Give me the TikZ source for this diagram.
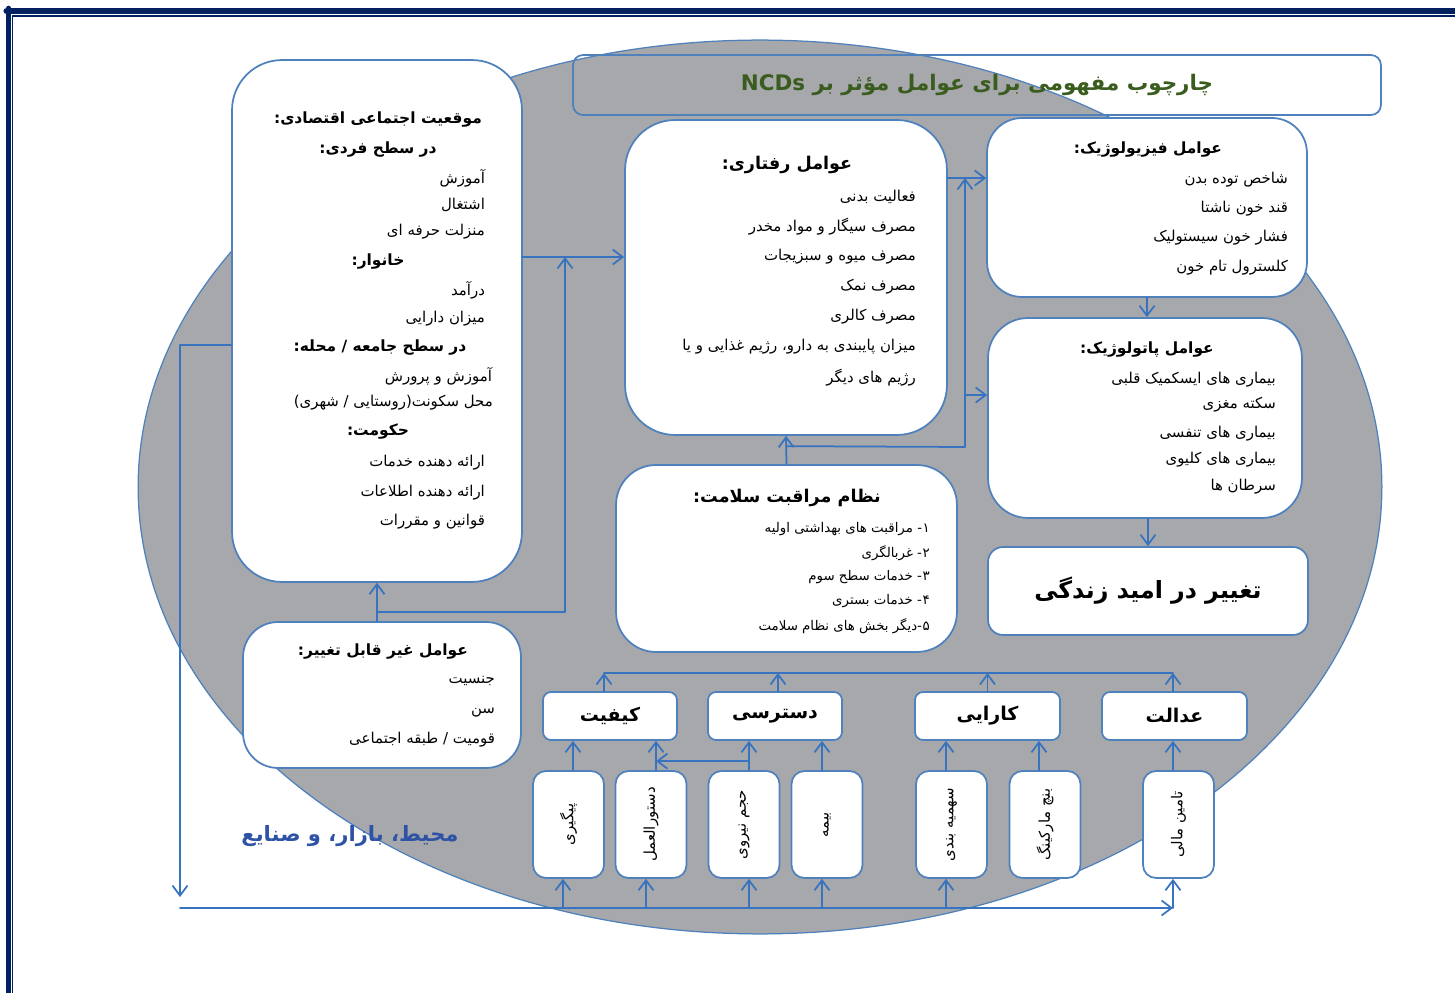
\documentclass[tikz,border=0pt]{standalone}
\usepackage{fontspec}
\usetikzlibrary{arrows.meta,positioning}
\TeXXeTstate=1
\newfontfamily\arabicfont[Script=Arabic]{DejaVu Sans}
\newcommand\numdash[1]{#1\kern0.05em-\relax}

\definecolor{boxblue}{RGB}{79,129,189}
\definecolor{linkblue}{RGB}{55,115,190}
\definecolor{ellgray}{RGB}{166,168,171}
\definecolor{framenavy}{RGB}{0,32,96}
\definecolor{titlegreen}{RGB}{58,92,30}
\definecolor{envblue}{RGB}{46,82,165}

\tikzset{
  roundbox/.style={draw=boxblue, fill=white, line width=0.035cm, rounded corners=#1, inner sep=0pt},
  roundbox/.default=0.9cm,
  headtxt/.style={font=\arabicfont\bfseries\fontsize{8.8}{11}\selectfont, inner sep=1pt},
  bighead/.style={font=\arabicfont\bfseries\fontsize{10}{12}\selectfont, inner sep=1pt},
  itemtxt/.style={font=\arabicfont\fontsize{8.5}{10}\selectfont, anchor=east, inner sep=1pt},
  qbox/.style={roundbox=0.16cm, minimum height=0.96cm, font=\arabicfont\bfseries\fontsize{10.8}{13}\selectfont},
  sbox/.style={roundbox=0.26cm, minimum width=1.42cm, minimum height=2.14cm},
  stxt/.style={rotate=90, font=\arabicfont\fontsize{8.5}{10}\selectfont, inner sep=1pt},
  link/.style={draw=linkblue, line width=0.035cm},
}

\begin{document}
\begin{tikzpicture}[x=0.02cm, y=-0.02cm, >={Straight Barb[length=0.2cm, width=0.3cm]}, line join=round, line cap=round]
\useasboundingbox (0,0) rectangle (1455,993);
% page frame
\draw[framenavy, line width=0.13cm] (6.7,11) -- (1455,11);
\draw[framenavy, line width=0.09cm] (8.7,8) -- (8.7,993);
\draw[framenavy, line width=0.03cm] (12.5,16) -- (1455,16) (12.5,16) -- (12.5,993);

% environment, market and industry
\filldraw[fill=ellgray, draw=boxblue, line width=0.025cm] (760,487) ellipse [x radius=12.44cm, y radius=8.94cm];
\node[font=\arabicfont\bfseries\fontsize{12}{14}\selectfont, text=envblue] (env) at (350,836) {\beginR محیط، بازار، و صنایع\endR};

\node[draw=boxblue, line width=0.035cm, rounded corners=0.2cm, minimum width=16.16cm, minimum height=1.2cm,
  font=\arabicfont\bfseries\fontsize{12.2}{14}\selectfont, text=titlegreen] (title) at (977,85)
  {\beginR چارچوب مفهومی برای عوامل مؤثر بر NCDs\endR};

% main boxes
\node[roundbox=1cm, minimum width=5.8cm, minimum height=10.44cm] (ses) at (377,321) {};
\node[roundbox=1cm, minimum width=6.44cm, minimum height=6.3cm] (beh) at (786,277.5) {};
\node[roundbox=0.7cm, minimum width=6.4cm, minimum height=3.58cm] (phy) at (1147,207.5) {};
\node[roundbox=0.8cm, minimum width=6.28cm, minimum height=4cm] (pat) at (1145,418) {};
\node[roundbox=0.3cm, minimum width=6.4cm, minimum height=1.76cm, font=\arabicfont\bfseries\fontsize{13.5}{16}\selectfont] (life) at (1148,591) {\beginR تغییر در امید زندگی\endR};
\node[roundbox=0.8cm, minimum width=6.82cm, minimum height=3.74cm] (hcs) at (786.5,558.5) {};
\node[roundbox=0.7cm, minimum width=5.56cm, minimum height=2.92cm] (fix) at (382,695) {};

% socio-economic position
\node[headtxt] (ses-h1) at (378,120) {\beginR موقعیت اجتماعی اقتصادی:\endR};
\node[headtxt] (ses-h2) at (378,150) {\beginR در سطح فردی:\endR};
\node[headtxt] (ses-h3) at (378,262) {\beginR خانوار:\endR};
\node[headtxt] (ses-h4) at (380,348) {\beginR در سطح جامعه / محله:\endR};
\node[headtxt] (ses-h5) at (378,432) {\beginR حکومت:\endR};
\foreach \x/\y/\txt [count=\i] in {487/178/آموزش, 487/205/اشتغال, 487/232/منزلت حرفه ای, 487/290/درآمد, 487/319/میزان دارایی, 494/376/آموزش و پرورش, 495/403/{محل سکونت(روستایی / شهری)}, 487/463/ارائه دهنده خدمات, 487/493/ارائه دهنده اطلاعات, 487/522/قوانین و مقررات}
  \node[itemtxt] (ses-\i) at (\x,\y) {\beginR\txt\endR};

% behaviour
\node[bighead] (beh-h) at (787,165) {\beginR عوامل رفتاری:\endR};
\foreach \y/\txt [count=\i] in {197/فعالیت بدنی, 227/مصرف سیگار و مواد مخدر, 257/مصرف میوه و سبزیجات, 287/مصرف نمک, 317/مصرف کالری, 347/میزان پایبندی به دارو، رژیم غذایی و یا, 378/رژیم های دیگر}
  \node[itemtxt] (beh-\i) at (918,\y) {\beginR\txt\endR};

% physiology
\node[headtxt] (phy-h) at (1148,150) {\beginR عوامل فیزیولوژیک:\endR};
\foreach \y/\txt [count=\i] in {180/شاخص توده بدن, 209/قند خون ناشتا, 238/فشار خون سیستولیک, 268/کلسترول تام خون}
  \node[itemtxt] (phy-\i) at (1290,\y) {\beginR\txt\endR};

% pathology
\node[headtxt] (pat-h) at (1147,350) {\beginR عوامل پاتولوژیک:\endR};
\foreach \y/\txt [count=\i] in {380/بیماری های ایسکمیک قلبی, 405/سکته مغزی, 434/بیماری های تنفسی, 460/بیماری های کلیوی, 487/سرطان ها}
  \node[itemtxt] (pat-\i) at (1278,\y) {\beginR\txt\endR};

% health care system
\node[bighead] (hcs-h) at (787,498) {\beginR نظام مراقبت سلامت:\endR};
\foreach \y/\txt [count=\i] in {529/\numdash{۱} مراقبت های بهداشتی اولیه, 553/\numdash{۲} غربالگری, 577/\numdash{۳} خدمات سطح سوم, 601/\numdash{۴} خدمات بستری, 626/\numdash{۵}دیگر بخش های نظام سلامت}
  \node[itemtxt, font=\arabicfont\fontsize{7.6}{9}\selectfont] (hcs-\i) at (932,\y) {\beginR\txt\endR};

% fixed factors
\node[headtxt] (fix-h) at (383,652) {\beginR عوامل غیر قابل تغییر:\endR};
\foreach \y/\txt [count=\i] in {681/جنسیت, 713/سن, 740/{قومیت / طبقه اجتماعی}}
  \node[itemtxt] (fix-\i) at (497,\y) {\beginR\txt\endR};

% quality, access, efficiency, equity
\node[qbox, minimum width=2.68cm] (kef) at (610,716) {\beginR کیفیت\endR};
\node[qbox, minimum width=2.68cm] (das) at (775,716) {\beginR دسترسی\endR};
\node[qbox, minimum width=2.9cm] (kar) at (987.5,716) {\beginR کارایی\endR};
\node[qbox, minimum width=2.9cm] (ada) at (1174.5,716) {\beginR عدالت\endR};

\foreach \n/\x/\txt in {pey/568.5/پیگیری, dst/651/دستورالعمل, haj/744/حجم نیروی, bim/827/بیمه, sah/951.5/سهمیه بندی, ben/1045/بنچ مارکینگ, tam/1178.5/تامین مالی}{
  \node[sbox] (\n) at (\x,824.5) {};
  \node[stxt] (\n-t) at (\n) {\beginR\txt\endR};
}

% connectors
\coordinate (sesout) at (522,257);
\coordinate (j1) at (565,612);
\draw[link,->] (sesout) -- (sesout -| beh.west);
\draw[link,->] (ses.south |- fix.north) -- (ses.south);
\draw[link,->] (ses.south |- j1) -- (j1) -- (j1 |- sesout);

\coordinate (p1) at ([yshift=0.59cm]phy.west);
\coordinate (p2) at ([yshift=0.46cm]pat.west);
\coordinate (h1) at ([yshift=0.36cm]hcs.north);
\coordinate (h2) at (965,447);
\draw[link,->] (beh.east |- p1) -- (p1);
\draw[link,->] (hcs.north) -- (beh.south);
\draw[link] (h1) -- (h2);
\draw[link,->] (h2) -- (h2 |- p1);
\draw[link,->] (h2 |- p2) -- (p2);
\draw[link,->] (phy.south) -- (phy.south |- pat.north);
\draw[link,->] (pat.south -| life.north) -- (life.north);

\coordinate (hline) at (0,673);
\foreach \q/\dx in {kef/-6, das/3, kar/0, ada/-1.5}{
  \coordinate (q) at ([xshift=\dx*0.02cm]\q.north);
  \draw[link,->] (q) -- (q |- hline);
}
\draw[link] ([xshift=-0.12cm]kef.north |- hline) -- ([xshift=-0.03cm]ada.north |- hline);

\foreach \s/\q/\dx in {pey/kef/4.5, dst/kef/5, haj/das/5, bim/das/-5, sah/kar/-5.5, ben/kar/-6, tam/ada/-5.5}{
  \coordinate (s) at ([xshift=\dx*0.02cm]\s.north);
  \draw[link,->] (s) -- (s |- \q.south);
}
\coordinate (hj) at ([xshift=0.1cm, yshift=0.18cm]haj.north);
\coordinate (dj) at ([xshift=0.1cm]dst.north);
\draw[link,->] (hj) -- (hj -| dj);

\coordinate (envtop) at (180,345);
\coordinate (envbot) at (180,908);
\coordinate (envend) at (1173,908);
\draw[link,->] (ses.west |- envtop) -- (envtop) -- ([yshift=0.22cm]envbot);
\draw[link,->] (envbot) -- (envend);
\foreach \s/\dx in {pey/-5.5, dst/-5, haj/5, bim/-5, sah/-5.5, tam/-5.5}{
  \coordinate (s) at ([xshift=\dx*0.02cm]\s.south);
  \draw[link,->] (s |- envbot) -- (s);
}
\end{tikzpicture}
\end{document}
